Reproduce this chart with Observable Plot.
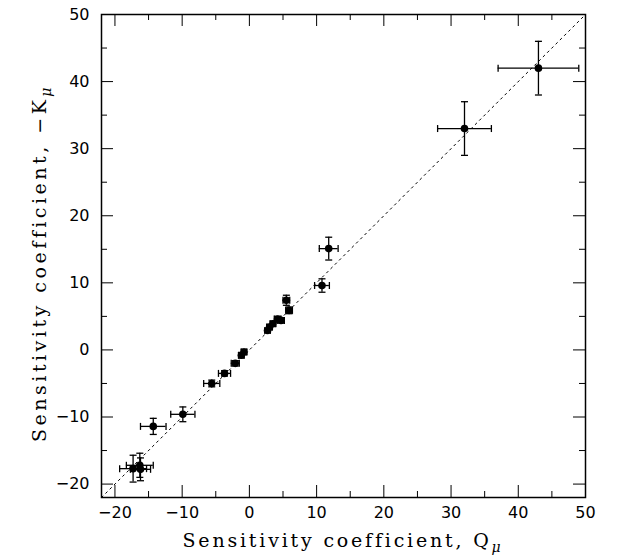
<!DOCTYPE html>
<html><head><meta charset="utf-8">
<script src="https://cdn.jsdelivr.net/npm/d3@7"></script>
<script src="https://cdn.jsdelivr.net/npm/@observablehq/plot@0.6"></script>
<style>body{margin:0;background:#fff}</style>
</head><body><div id="chart"></div>
<script>
// Sensitivity coefficients
const qValues = [43, 32, 11.8, 10.8, 5.5, 5.9, 4.7, 4.2, 3.5, 3.0, 2.7, -0.8, -1.2, -2.1, -3.7, -5.6, -9.9, -14.3, -16.3, -16.2, -17.3];
const kValues = [42, 33, 15.1, 9.6, 7.4, 5.9, 4.4, 4.6, 3.9, 3.4, 2.9, -0.3, -0.8, -2.0, -3.5, -5.0, -9.6, -11.4, -17.2, -17.8, -17.7];
const qErrors = [6, 4, 1.4, 1.1, 0.5, 0.5, 0.5, 0.5, 0.4, 0.4, 0.4, 0.4, 0.4, 0.6, 0.9, 1.2, 1.8, 1.9, 2.0, 1.5, 2.0];
const kErrors = [4, 4, 1.7, 1.0, 0.75, 0.5, 0.4, 0.4, 0.4, 0.4, 0.3, 0.4, 0.4, 0.4, 0.4, 0.5, 1.1, 1.2, 1.8, 1.7, 2.0];
const majorTicks = [-20, -10, 0, 10, 20, 30, 40, 50];
const minorTicks = [-15, -5, 5, 15, 25, 35, 45];
const axisDomain = [-22, 50];
const xLabel = "Sensitivity coefficient, Q";
const yLabel = "Sensitivity coefficient, \u2212K";
const subLabel = "\u03bc";

const data = qValues.map((q, i) => ({q, k: kValues[i], qe: qErrors[i], ke: kErrors[i]}));
const diag = axisDomain.map(v => ({v}));

const W = 617, H = 558, mL = 101, mR = 32, mT = 14, mB = 61;
const iw = W - mL - mR, ih = H - mT - mB;
const capLen = 3.5;
const vbar = {draw(ctx, size) { const r = Math.sqrt(size / Math.PI); ctx.moveTo(0, -r); ctx.lineTo(0, r); }};
const hbar = {draw(ctx, size) { const r = Math.sqrt(size / Math.PI); ctx.moveTo(-r, 0); ctx.lineTo(r, 0); }};
const tk = {stroke: "black", strokeWidth: 1};
const eb = {stroke: "black", strokeWidth: 1.3};

const plot = Plot.plot({
  width: W, height: H,
  marginLeft: mL, marginRight: mR, marginTop: mT, marginBottom: mB,
  x: {domain: axisDomain},
  y: {domain: axisDomain},
  style: {fontFamily: "DejaVu Sans", fontSize: "16px", color: "black", background: "white"},
  marks: [
    Plot.line(diag, {x: "v", y: "v", stroke: "black", strokeWidth: 1, strokeDasharray: "2,4"}),
    // inward ticks on all four sides
    Plot.ruleX(majorTicks, {...tk, insetTop: ih - 12}),
    Plot.ruleX(majorTicks, {...tk, insetBottom: ih - 12}),
    Plot.ruleX(minorTicks, {...tk, insetTop: ih - 6}),
    Plot.ruleX(minorTicks, {...tk, insetBottom: ih - 6}),
    Plot.ruleY(majorTicks, {...tk, insetRight: iw - 12}),
    Plot.ruleY(majorTicks, {...tk, insetLeft: iw - 12}),
    Plot.ruleY(minorTicks, {...tk, insetRight: iw - 6}),
    Plot.ruleY(minorTicks, {...tk, insetLeft: iw - 6}),
    Plot.axisX(majorTicks, {anchor: "bottom", tickSize: 0, tickPadding: 9, label: null, fontSize: 16}),
    Plot.axisY(majorTicks, {anchor: "left", tickSize: 0, tickPadding: 12, label: null, fontSize: 16}),
    // error bars
    Plot.ruleY(data, {...eb, y: "k", x1: d => d.q - d.qe, x2: d => d.q + d.qe}),
    Plot.ruleX(data, {...eb, x: "q", y1: d => d.k - d.ke, y2: d => d.k + d.ke}),
    Plot.dot(data, {...eb, x: d => d.q - d.qe, y: "k", symbol: vbar, r: capLen, fill: "none"}),
    Plot.dot(data, {...eb, x: d => d.q + d.qe, y: "k", symbol: vbar, r: capLen, fill: "none"}),
    Plot.dot(data, {...eb, x: "q", y: d => d.k - d.ke, symbol: hbar, r: capLen, fill: "none"}),
    Plot.dot(data, {...eb, x: "q", y: d => d.k + d.ke, symbol: hbar, r: capLen, fill: "none"}),
    Plot.dot(data, {x: "q", y: "k", r: 3.8, fill: "black", stroke: "none"}),
    Plot.frame({stroke: "black", strokeWidth: 1.5})
  ]
});

const svg = d3.select(plot);
const lab = svg.append("g").attr("font-family", "DejaVu Serif").attr("font-size", 19).attr("fill", "black");
const xt = lab.append("text").attr("x", mL + iw / 2).attr("y", 547).attr("text-anchor", "middle")
  .attr("letter-spacing", "2.8px");
xt.append("tspan").text(xLabel);
xt.append("tspan").attr("font-size", 14).attr("font-style", "italic").attr("dy", 5).text(subLabel);
const yt = lab.append("text").attr("transform", `translate(46,263) rotate(-90)`).attr("text-anchor", "middle")
  .attr("letter-spacing", "3.5px");
yt.append("tspan").text(yLabel);
yt.append("tspan").attr("font-size", 14).attr("font-style", "italic").attr("dy", 5).text(subLabel);

document.getElementById("chart").appendChild(plot);
</script>
</body></html>
